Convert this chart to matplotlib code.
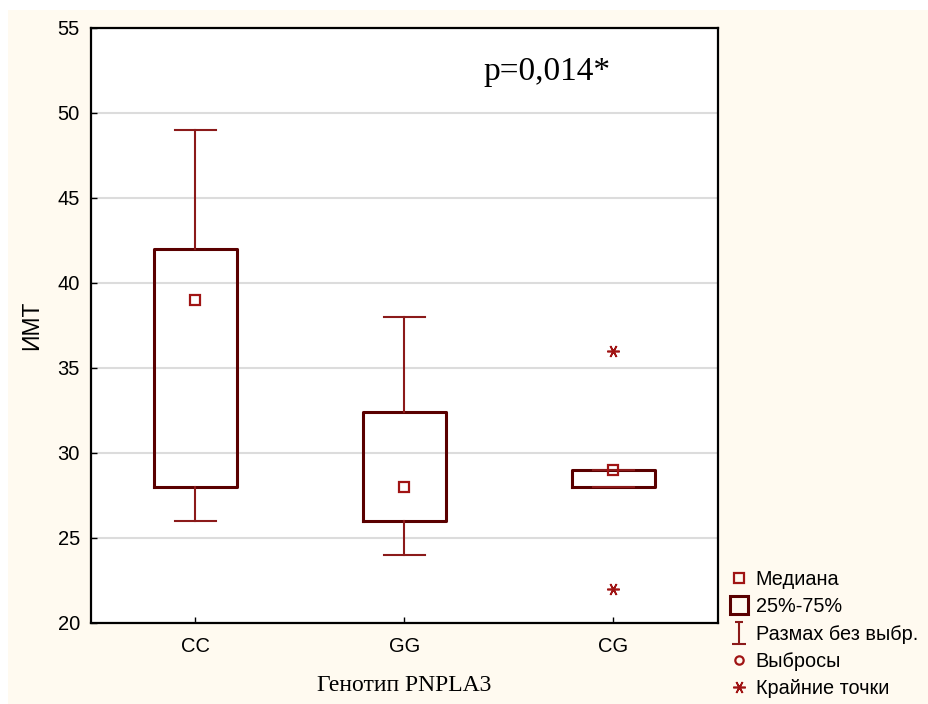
import matplotlib
matplotlib.use("Agg")
import matplotlib.pyplot as plt
from matplotlib.lines import Line2D
from matplotlib.patches import Rectangle
from matplotlib.path import Path

categories = ["CC", "GG", "CG"]
medians = [39, 28, 29]
q1 = [28, 26, 28]
q3 = [42, 32.4, 29]
whisk_lo = [26, 24, 28]
whisk_hi = [49, 38, 29]
extremes = [[], [], [36, 22]]
yticks = [20, 25, 30, 35, 40, 45, 50, 55]
p_text = "p=0,014*"
xlabel = "Генотип PNPLA3"
ylabel = "ИМТ"
legend_labels = ["Медиана", "25%-75%", "Размах без выбр.", "Выбросы", "Крайние точки"]

cream = "#fffaf0"
box_col = "#5a0000"
whisk_col = "#8b1a1a"
med_col = "#a01414"
serif = ["Liberation Serif", "DejaVu Serif"]

plt.rcParams["font.family"] = ["Liberation Sans", "DejaVu Sans"]

fig = plt.figure(figsize=(9.29, 7.04), dpi=100)
fig.patch.set_facecolor("white")
fig.add_artist(Rectangle((8 / 929, 0), 1, 1 - 10 / 704, transform=fig.transFigure,
                         facecolor=cream, edgecolor="none", zorder=-10))

ax = fig.add_axes([91 / 929, 1 - 623 / 704, (718 - 91) / 929, (623 - 28) / 704])
ax.set_facecolor("white")

stats = []
for i, c in enumerate(categories):
    stats.append(dict(label=c, med=medians[i], q1=q1[i], q3=q3[i],
                      whislo=whisk_lo[i], whishi=whisk_hi[i], fliers=extremes[i]))
pos = list(range(1, len(categories) + 1))
ax.bxp(stats, positions=pos, widths=0.4, showfliers=True,
       boxprops=dict(color=box_col, linewidth=2.2),
       whiskerprops=dict(color=whisk_col, linewidth=1.5),
       capprops=dict(color=whisk_col, linewidth=1.5),
       capwidths=0.2,
       medianprops=dict(visible=False),
       flierprops=dict(marker=(6, 2, 90), markeredgecolor=med_col, markersize=9,
                       markeredgewidth=1.2, linestyle="none"))
ax.plot(pos, medians, linestyle="none", marker="s", markersize=6.5,
        markerfacecolor="none", markeredgecolor=med_col, markeredgewidth=1.6, zorder=5)

ax.set_xlim(0.5, 3.5)
ax.set_ylim(20, 55)
ax.set_yticks(yticks)
ax.set_xticks(pos)
ax.set_xticklabels(categories)
ax.yaxis.grid(True, color="#dcdcdc", linewidth=1.5)
ax.set_axisbelow(True)
for s in ax.spines.values():
    s.set_linewidth(1.6)
    s.set_color("black")
ax.tick_params(axis="both", direction="in", length=4, width=1, labelsize=14.5)
ax.tick_params(axis="y", pad=8)
ax.tick_params(axis="x", pad=10)

ax.set_xlabel(xlabel, family=serif, fontsize=17, labelpad=14)
ax.set_ylabel(ylabel, fontsize=16.5, labelpad=10)
ax.text(0.626, 0.926, p_text, transform=ax.transAxes, family=serif,
        fontsize=24, va="center", ha="left")

whisk_marker = Path([(-0.6, -1), (0.6, -1), (0, -1), (0, 1), (-0.4, 1), (0.4, 1)],
                    [Path.MOVETO, Path.LINETO, Path.MOVETO, Path.LINETO, Path.MOVETO, Path.LINETO])
handles = [
    Line2D([], [], linestyle="none", marker="s", markersize=6.5, markerfacecolor="none",
           markeredgecolor=med_col, markeredgewidth=1.6),
    Line2D([], [], linestyle="none", marker="s", markersize=13, markerfacecolor="none",
           markeredgecolor=box_col, markeredgewidth=2.2),
    Line2D([], [], linestyle="none", marker=whisk_marker, markersize=16,
           markeredgecolor=whisk_col, markeredgewidth=1.5),
    Line2D([], [], linestyle="none", marker="o", markersize=6, markerfacecolor="none",
           markeredgecolor=med_col, markeredgewidth=1.6),
    Line2D([], [], linestyle="none", marker=(6, 2, 90), markersize=9,
           markeredgecolor=med_col, markeredgewidth=1.2),
]
fig.legend(handles, legend_labels, loc="upper left", bbox_to_anchor=(731 / 929, 1 - 570 / 704),
           frameon=False, fontsize=14.3, handlelength=0.8, handletextpad=0.45,
           labelspacing=0.42, borderaxespad=0, borderpad=0)

fig.savefig("out.png", dpi=100, facecolor=fig.get_facecolor())
